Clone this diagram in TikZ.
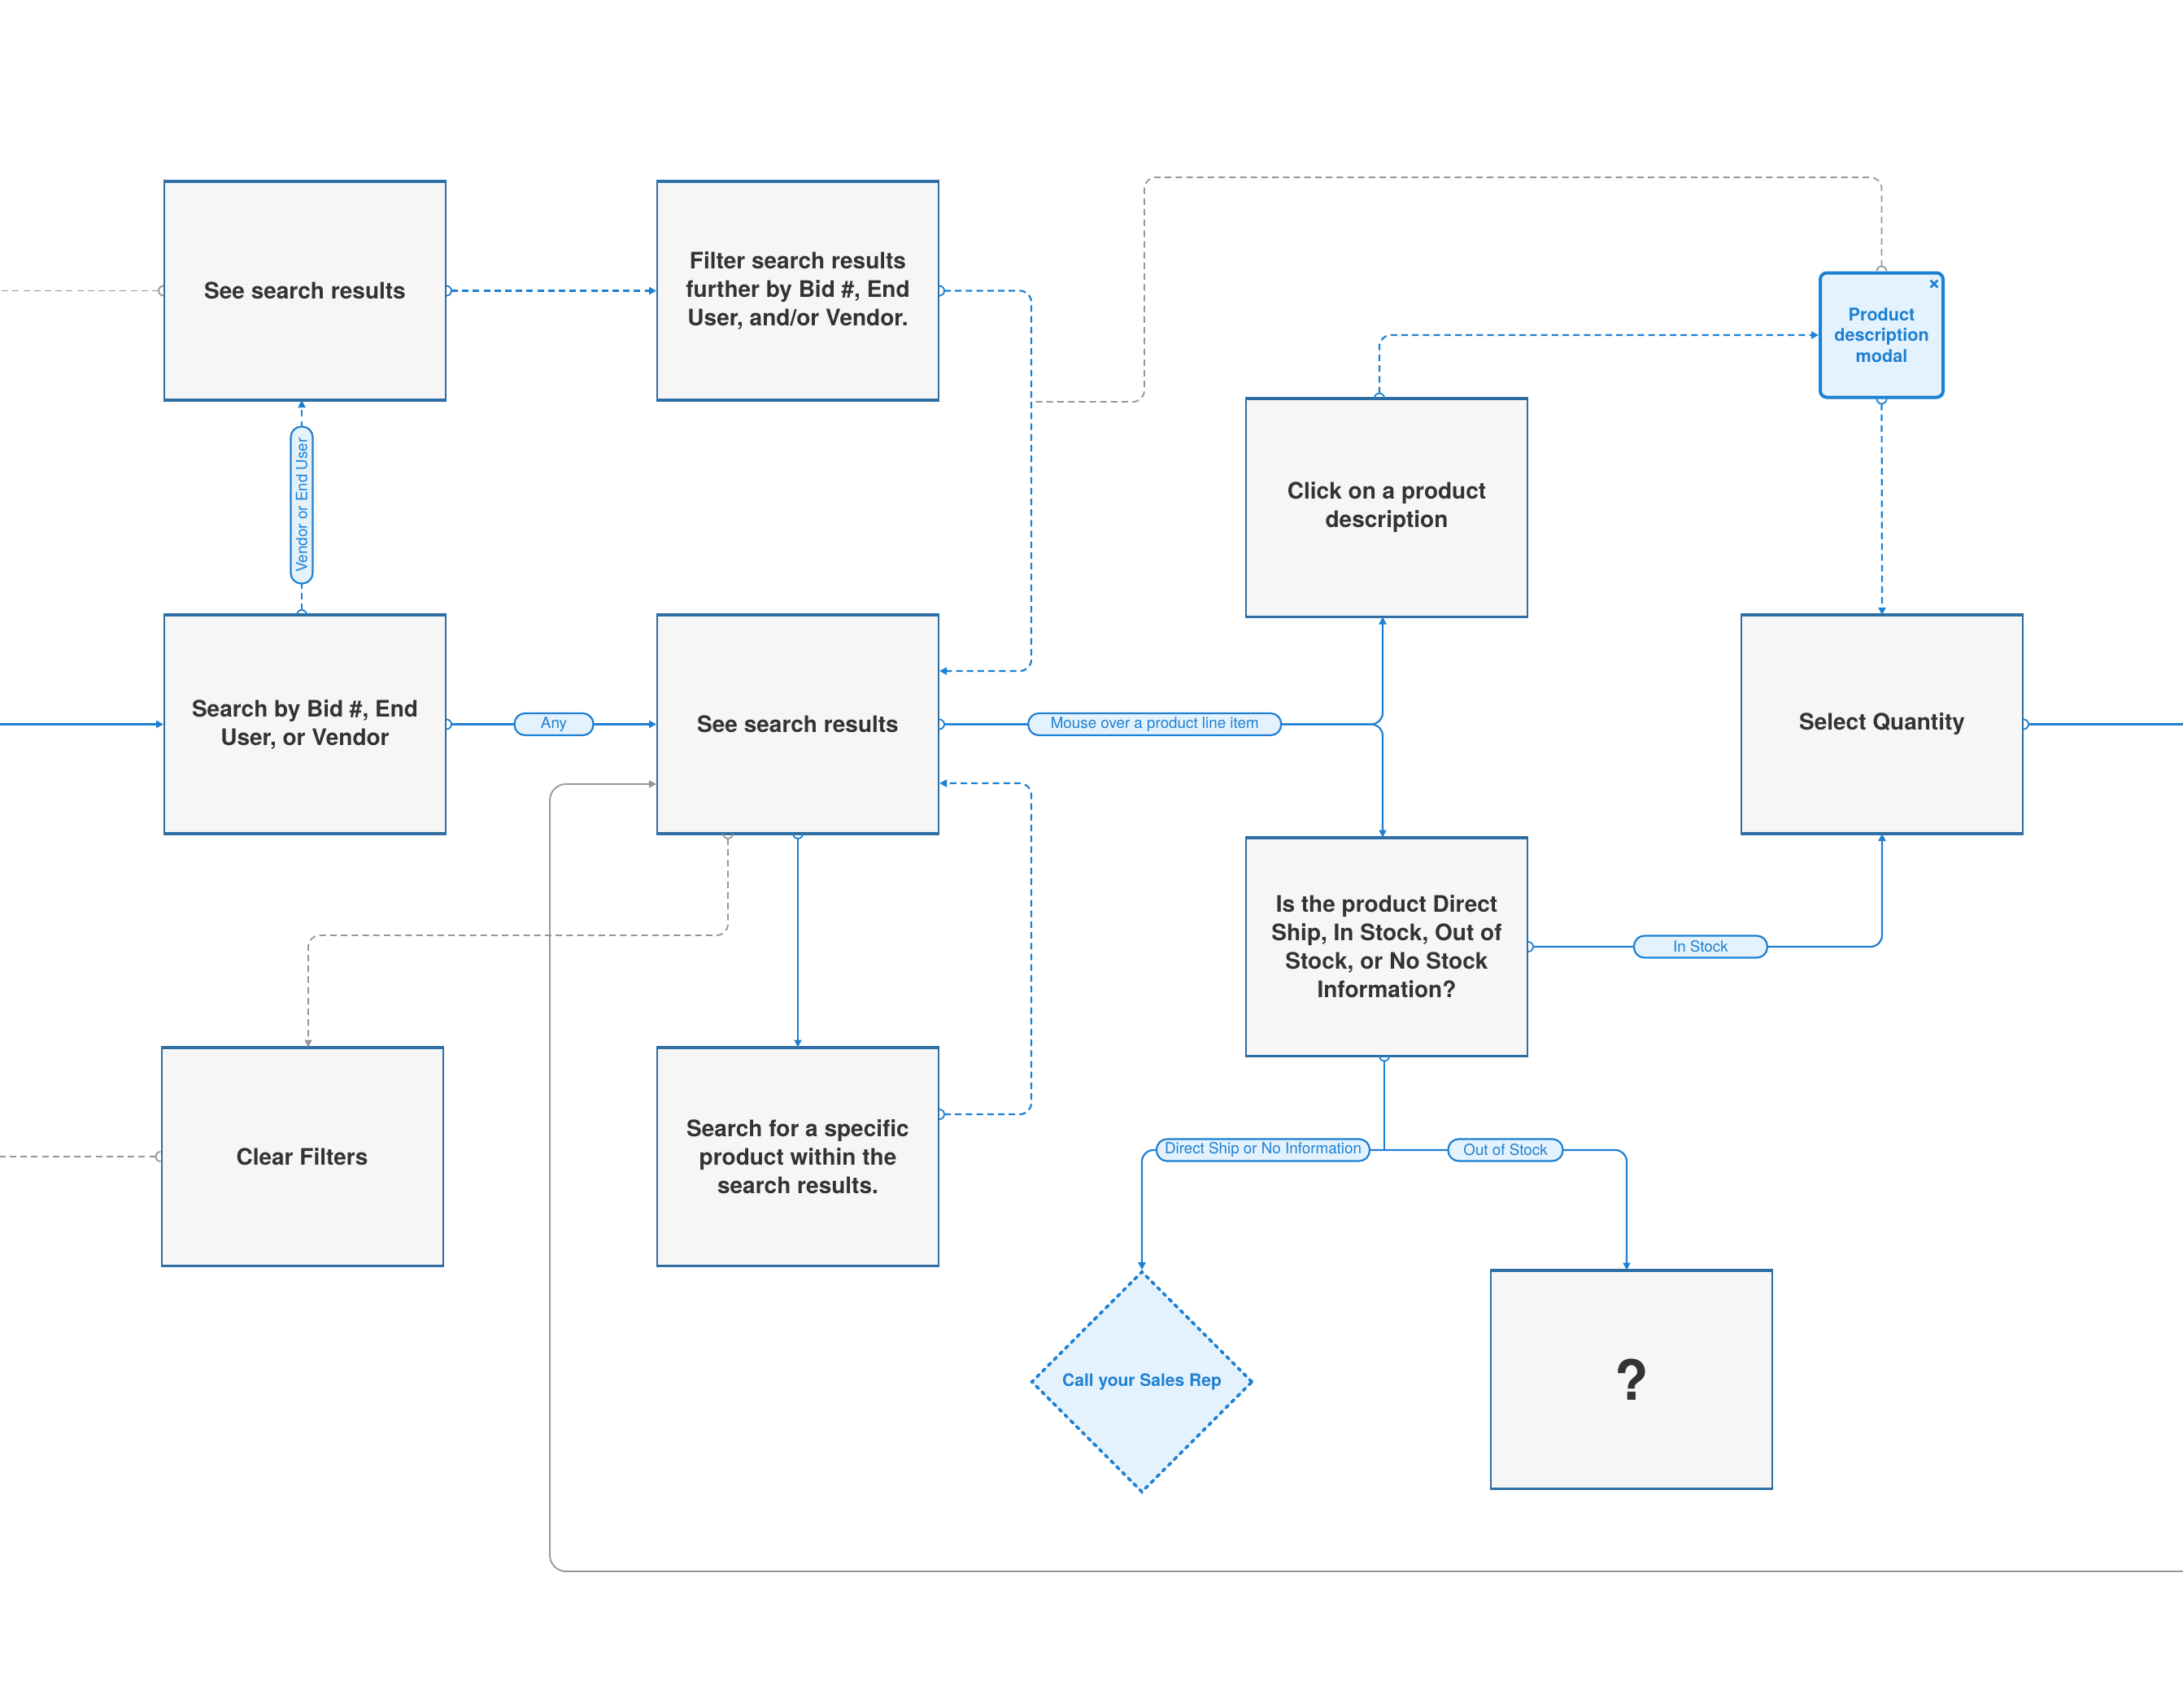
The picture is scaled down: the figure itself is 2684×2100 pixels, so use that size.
\documentclass[tikz,border=0pt]{standalone}
\usepackage{fontspec}
\setmainfont{TeX Gyre Heros}
\usetikzlibrary{arrows.meta,shapes.geometric}
\definecolor{boxline}{RGB}{46,110,164}
\definecolor{boxfill}{RGB}{246,246,246}
\definecolor{cblue}{RGB}{30,128,210}
\definecolor{pillfill}{RGB}{227,242,253}
\definecolor{txt}{RGB}{51,51,51}
\definecolor{cgray}{RGB}{150,150,150}
\newcommand\portE[2]{\draw[#2] ([yshift=3pt]#1) arc[start angle=90,end angle=-90,radius=3pt];}
\newcommand\portW[2]{\draw[#2] ([yshift=3pt]#1) arc[start angle=90,end angle=270,radius=3pt];}
\newcommand\portN[2]{\draw[#2] ([xshift=-3pt]#1) arc[start angle=180,end angle=0,radius=3pt];}
\newcommand\portS[2]{\draw[#2] ([xshift=-3pt]#1) arc[start angle=180,end angle=360,radius=3pt];}
\begin{document}
\begin{tikzpicture}[x=0.5pt,y=-0.5pt,
  boxedge/.style={draw=boxline,line width=1.6pt},
  stepbox/.style={draw=boxline,line width=1pt,fill=boxfill,minimum width=173pt,minimum height=133.5pt,inner sep=0pt,align=center,text=txt,font=\bfseries\fontsize{14}{17.5}\selectfont,
    append after command={(\tikzlastnode.north west) edge[boxedge] (\tikzlastnode.north east) (\tikzlastnode.south west) edge[boxedge] (\tikzlastnode.south east)}},
  modal/.style={draw=cblue,line width=2pt,fill=pillfill,rounded corners=4pt,minimum width=75.5pt,minimum height=76.5pt,inner sep=0pt,align=center,text=cblue,font=\bfseries\fontsize{10.8}{12.8}\selectfont},
  callrep/.style={diamond,draw=cblue,line width=1.8pt,dash pattern=on 2pt off 3pt,line cap=round,fill=pillfill,minimum width=136pt,minimum height=136pt,inner sep=0pt,text=cblue,font=\bfseries\fontsize{10.5}{12}\selectfont},
  conn/.style={draw=cblue,line width=1.1pt,rounded corners=7pt},
  dconn/.style={conn,dash pattern=on 4pt off 2.6pt},
  gdash/.style={draw=cgray,line width=0.9pt,dash pattern=on 4pt off 2.6pt,rounded corners=7pt},
  gsolid/.style={draw=cgray,line width=0.9pt,rounded corners=10pt},
  arr/.style={-{Triangle[length=4.5pt,width=4.5pt]}},
  pill/.style={draw=cblue,line width=1.1pt,fill=pillfill,text=cblue,rounded corners=6.5pt,minimum height=13.5pt,inner xsep=0pt,inner ysep=0pt,font=\fontsize{9.4}{11}\selectfont,solid},
  bport/.style={draw=cblue,line width=0.9pt,solid},
  gport/.style={draw=cgray,line width=0.9pt,solid},
]
\useasboundingbox[fill=white] (0,0) rectangle (2684,2100);
\coordinate (edgeL) at (0,0);
\coordinate (edgeR) at (2684,0);
\coordinate (bus) at (1268,0);

\node[stepbox] (A) at (375,357.5) {See search results};
\node[stepbox] (F) at (981,357.5) {Filter search results\\further by Bid \#, End\\User, and/or Vendor.};
\node[stepbox] (SB) at (375,890.5) {Search by Bid \#, End\\User, or Vendor};
\node[stepbox] (SSR) at (981,890.5) {See search results};
\node[stepbox] (CL) at (1705,624) {Click on a product\\description};
\node[stepbox] (SQ) at (2314,890.5) {Select Quantity};
\node[stepbox] (IP) at (1705,1164) {Is the product Direct\\Ship, In Stock, Out of\\Stock, or No Stock\\Information?};
\node[stepbox] (CF) at (371.5,1422) {Clear Filters};
\node[stepbox] (SS) at (981,1422) {Search for a specific\\product within the\\search results.};
\node[stepbox,font=\bfseries\fontsize{34}{40}\selectfont] (Q) at (2006,1696) {?};
\node[modal] (M) at (2313.5,412) {Product\\description\\modal};
\node[callrep] (D) at (1404,1699) {Call your Sales Rep};

% close mark of the modal
\coordinate (X) at ([xshift=-6.5pt,yshift=-7.75pt]M.north east);
\draw[cblue,line width=1.3pt] ([xshift=-2.2pt,yshift=-2.2pt]X) -- ([xshift=2.2pt,yshift=2.2pt]X)
  ([xshift=-2.2pt,yshift=2.2pt]X) -- ([xshift=2.2pt,yshift=-2.2pt]X);

\coordinate (ssrG) at ([xshift=-43pt]SSR.south);
\coordinate (ssP) at ([yshift=26pt]SS.east);
\coordinate (sbN) at ([xshift=-2pt]SB.north);
\coordinate (aS) at ([xshift=-2pt]A.south);
\coordinate (clN) at ([xshift=-4.5pt]CL.north);
\coordinate (clS) at ([xshift=-2.5pt]CL.south);
\coordinate (ipN) at ([xshift=-2.5pt]IP.north);
\coordinate (ipS) at ([xshift=-1.5pt]IP.south);
\coordinate (qN) at ([xshift=-3pt]Q.north);
\coordinate (cfN) at ([xshift=3.75pt]CF.north);

% outgoing gray dashed at the left
\portW{A.west}{gport}
\draw[gdash] ([xshift=-3pt]A.west) -- (A.west -| edgeL);
\portW{CF.west}{gport}
\draw[gdash] ([xshift=-3pt]CF.west) -- (CF.west -| edgeL);
% incoming to Search by
\draw[conn,arr] (SB.west -| edgeL) -- (SB.west);
% A -> F
\portE{A.east}{bport}
\draw[dconn,arr] ([xshift=3pt]A.east) -- (F.west);
% SB -> A
\portN{sbN}{bport}
\draw[dconn,arr] ([yshift=3pt]sbN) -- node[pill,rotate=90,minimum width=96.5pt]{Vendor or End User} (aS);
% SB -> SSR
\portE{SB.east}{bport}
\draw[conn,arr] ([xshift=3pt]SB.east) -- node[pill,minimum width=48.5pt]{Any} (SSR.west);
% F -> SSR
\portE{F.east}{bport}
\draw[dconn,arr] ([xshift=3pt]F.east) -- (F.east -| bus) |- ([yshift=32.75pt]SSR.east);
% SS -> SSR
\portE{ssP}{bport}
\draw[dconn,arr] ([xshift=3pt]ssP) -- (ssP -| bus) |- ([yshift=-36.25pt]SSR.east);
% modal close -> back
\coordinate (gc) at (1407,218);
\coordinate (gj) at (1268,494);
\portN{M.north}{gport}
\draw[gdash] ([yshift=3pt]M.north) |- (gc) |- (gj);
% SSR -> Is product / Click
\portE{SSR.east}{bport}
\draw[conn,arr] ([xshift=3pt]SSR.east) -| (ipN);
\draw[conn,arr] ([xshift=3pt]SSR.east) -| node[pill,pos=0.24,minimum width=155.5pt]{Mouse over a product line item} (clS);
% Click -> modal
\portN{clN}{bport}
\draw[dconn,arr] ([yshift=3pt]clN) |- (M.west);
% modal -> Select Quantity
\portS{M.south}{bport}
\draw[dconn,arr] ([yshift=-3pt]M.south) -- (SQ.north);
% Select Quantity out
\portE{SQ.east}{bport}
\draw[conn] ([xshift=3pt]SQ.east) -- (SQ.east -| edgeR);
% Is product -> Select Quantity
\portE{IP.east}{bport}
\draw[conn,arr] ([xshift=3pt]IP.east) -| node[pill,pos=0.24,minimum width=82pt]{In Stock} (SQ.south);
% Is product -> call / ?
\portS{ipS}{bport}
\coordinate (split) at ([yshift=-57.75pt]ipS);
\draw[conn] ([yshift=-3pt]ipS) -- (split);
\draw[conn,arr] (split) -| node[pill,pos=0.25,minimum width=131pt]{Direct Ship or No Information} (D.north);
\draw[conn,arr] (split) -| node[pill,pos=0.25,minimum width=70.5pt]{Out of Stock} (qN);
% SSR -> Clear Filters
\portS{ssrG}{gport}
\coordinate (gm) at (0,1150);
\draw[gdash,arr] ([yshift=-3pt]ssrG) -- (ssrG |- gm) -| (cfN);
% SSR -> Search specific
\portS{SSR.south}{bport}
\draw[conn,arr] ([yshift=-3pt]SSR.south) -- (SS.north);
% gray loop back into SSR
\coordinate (gR) at (2684,1932);
\coordinate (gL) at (676,1932);
\draw[gsolid,arr] (gR) -- (gL) |- ([yshift=-36.75pt]SSR.west);
\end{tikzpicture}
\end{document}
